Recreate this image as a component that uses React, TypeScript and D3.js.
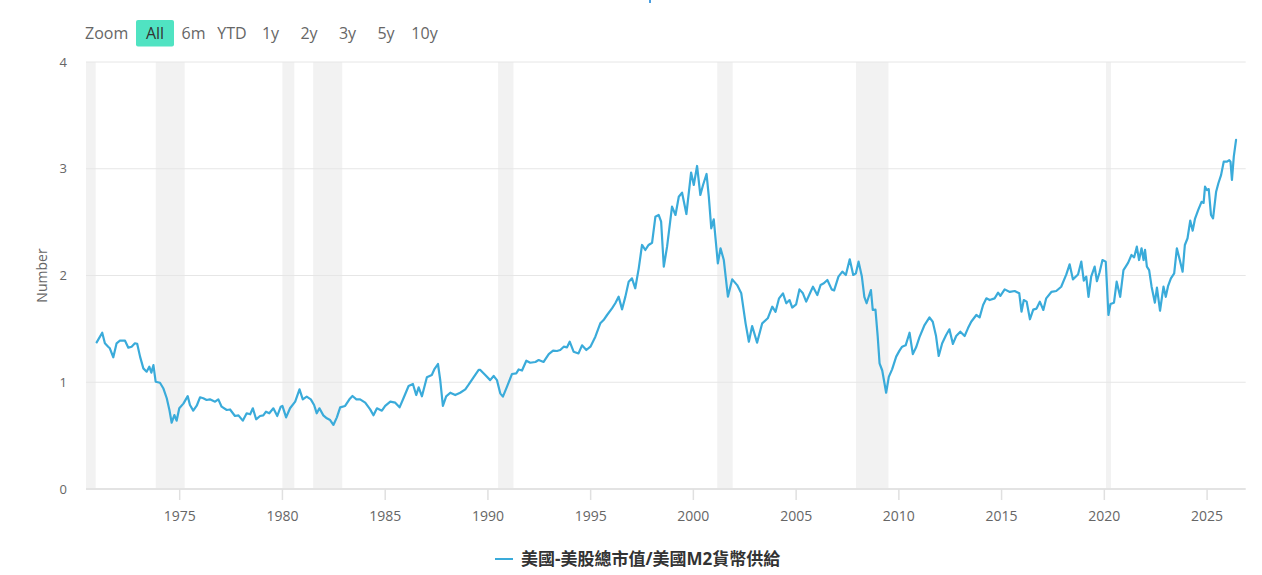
import { useMemo } from "react";
import { scaleLinear, scaleUtc, line } from "d3";

// ratio readings: [decimal year, value]
const ratio1970s: [number, number][] = [
  [1970.96, 1.374], [1971.23, 1.464], [1971.36, 1.365], [1971.52, 1.333], [1971.6, 1.318],
  [1971.77, 1.234], [1971.93, 1.365], [1972.09, 1.389], [1972.34, 1.389], [1972.5, 1.324],
  [1972.66, 1.333], [1972.82, 1.365], [1972.93, 1.36], [1973.07, 1.24], [1973.23, 1.13],
  [1973.39, 1.099], [1973.52, 1.146], [1973.62, 1.09], [1973.72, 1.16], [1973.83, 1.005],
  [1974.04, 0.995], [1974.2, 0.944], [1974.37, 0.85], [1974.5, 0.74], [1974.61, 0.621],
  [1974.74, 0.693], [1974.85, 0.64], [1974.98, 0.756], [1975.18, 0.8], [1975.39, 0.87],
  [1975.5, 0.787], [1975.66, 0.734], [1975.83, 0.78], [1975.99, 0.859], [1976.15, 0.85],
  [1976.31, 0.834], [1976.47, 0.84], [1976.72, 0.818], [1976.88, 0.84], [1977.04, 0.771],
  [1977.29, 0.74], [1977.45, 0.745], [1977.69, 0.684], [1977.86, 0.69], [1978.07, 0.64],
  [1978.26, 0.709], [1978.43, 0.7], [1978.56, 0.756], [1978.72, 0.653], [1978.91, 0.684],
  [1979.07, 0.69], [1979.2, 0.724], [1979.36, 0.709], [1979.56, 0.756], [1979.75, 0.684],
  [1979.92, 0.771],
];

const ratio1980s: [number, number][] = [
  [1980.0, 0.778], [1980.18, 0.671], [1980.37, 0.756], [1980.62, 0.818], [1980.83, 0.934],
  [1980.99, 0.84], [1981.18, 0.865], [1981.38, 0.84], [1981.54, 0.787], [1981.67, 0.709],
  [1981.8, 0.756], [1981.99, 0.69], [1982.16, 0.662], [1982.32, 0.646], [1982.48, 0.6],
  [1982.65, 0.671], [1982.81, 0.765], [1983.05, 0.778], [1983.26, 0.84], [1983.41, 0.871],
  [1983.6, 0.84], [1983.78, 0.84], [1984.03, 0.809], [1984.27, 0.746], [1984.43, 0.69],
  [1984.6, 0.756], [1984.84, 0.734], [1985.0, 0.778], [1985.25, 0.818], [1985.49, 0.809],
  [1985.7, 0.765], [1985.89, 0.85], [1986.14, 0.965], [1986.35, 0.984], [1986.51, 0.88],
  [1986.63, 0.952], [1986.79, 0.868], [1987.03, 1.046], [1987.27, 1.068], [1987.39, 1.12],
  [1987.57, 1.171], [1987.68, 1.021], [1987.81, 0.778], [1987.97, 0.868], [1988.17, 0.902],
  [1988.41, 0.88], [1988.65, 0.902], [1988.9, 0.934], [1989.06, 0.977], [1989.3, 1.046],
  [1989.55, 1.115], [1989.63, 1.115], [1989.87, 1.068],
];

const ratio1990s: [number, number][] = [
  [1990.11, 1.02], [1990.28, 1.059], [1990.44, 1.02], [1990.6, 0.896], [1990.73, 0.865],
  [1990.93, 0.959], [1991.17, 1.077], [1991.38, 1.083], [1991.5, 1.12], [1991.66, 1.11],
  [1991.87, 1.202], [1992.06, 1.183], [1992.31, 1.19], [1992.47, 1.208], [1992.71, 1.19],
  [1992.96, 1.264], [1993.17, 1.296], [1993.36, 1.293], [1993.52, 1.302], [1993.69, 1.333],
  [1993.85, 1.327], [1993.98, 1.38], [1994.17, 1.286], [1994.41, 1.27], [1994.58, 1.346],
  [1994.79, 1.302], [1994.99, 1.333], [1995.23, 1.427], [1995.47, 1.552], [1995.63, 1.583],
  [1995.8, 1.63], [1996.04, 1.692], [1996.2, 1.74], [1996.36, 1.802], [1996.53, 1.683],
  [1996.69, 1.802], [1996.85, 1.942], [1997.01, 1.973], [1997.17, 1.88], [1997.34, 2.067],
  [1997.5, 2.286], [1997.66, 2.239], [1997.82, 2.286], [1997.99, 2.307], [1998.15, 2.55],
  [1998.31, 2.567], [1998.43, 2.504], [1998.56, 2.083], [1998.72, 2.27], [1998.96, 2.645],
  [1999.13, 2.567], [1999.29, 2.738], [1999.45, 2.776], [1999.66, 2.576], [1999.89, 2.965],
];

const ratio2000s: [number, number][] = [
  [2000.02, 2.848], [2000.18, 3.026], [2000.34, 2.754], [2000.47, 2.848], [2000.64, 2.951],
  [2000.75, 2.738], [2000.87, 2.442], [2000.99, 2.526], [2001.19, 2.114], [2001.32, 2.255],
  [2001.48, 2.145], [2001.68, 1.802], [2001.89, 1.964], [2002.13, 1.91], [2002.33, 1.833],
  [2002.54, 1.552], [2002.7, 1.38], [2002.86, 1.527], [2003.1, 1.371], [2003.35, 1.552],
  [2003.62, 1.599], [2003.84, 1.708], [2004.0, 1.66], [2004.17, 1.786], [2004.36, 1.833],
  [2004.52, 1.74], [2004.68, 1.77], [2004.81, 1.7], [2005.0, 1.73], [2005.16, 1.87],
  [2005.33, 1.833], [2005.49, 1.755], [2005.7, 1.846], [2005.82, 1.895], [2006.03, 1.817],
  [2006.19, 1.911], [2006.35, 1.927], [2006.52, 1.958], [2006.73, 1.87], [2006.85, 1.86],
  [2007.06, 1.99], [2007.25, 2.036], [2007.42, 2.005], [2007.61, 2.152], [2007.78, 2.005],
  [2007.91, 2.02], [2008.04, 2.13], [2008.2, 1.99], [2008.32, 1.8], [2008.43, 1.74],
  [2008.64, 1.864], [2008.73, 1.677], [2008.86, 1.68], [2008.97, 1.427], [2009.06, 1.177],
  [2009.19, 1.11], [2009.38, 0.902], [2009.51, 1.05], [2009.67, 1.121], [2009.87, 1.24],
];

const ratio2010s: [number, number][] = [
  [2010.03, 1.296], [2010.16, 1.333], [2010.33, 1.346], [2010.52, 1.464], [2010.68, 1.264],
  [2010.84, 1.327], [2011.0, 1.421], [2011.25, 1.536], [2011.49, 1.608], [2011.65, 1.567],
  [2011.81, 1.433], [2011.94, 1.246], [2012.11, 1.365], [2012.3, 1.443], [2012.46, 1.496],
  [2012.63, 1.359], [2012.79, 1.433], [2012.99, 1.474], [2013.2, 1.433], [2013.36, 1.505],
  [2013.52, 1.567], [2013.77, 1.63], [2013.93, 1.608], [2014.1, 1.724], [2014.26, 1.786],
  [2014.42, 1.77], [2014.66, 1.786], [2014.83, 1.839], [2014.94, 1.81], [2015.15, 1.87],
  [2015.4, 1.846], [2015.64, 1.855], [2015.86, 1.833], [2015.97, 1.661], [2016.08, 1.77],
  [2016.22, 1.755], [2016.38, 1.59], [2016.54, 1.68], [2016.7, 1.69], [2016.86, 1.755],
  [2017.03, 1.677], [2017.17, 1.786], [2017.42, 1.846], [2017.66, 1.855], [2017.9, 1.895],
  [2018.15, 2.01], [2018.31, 2.105], [2018.47, 1.964], [2018.72, 2.01], [2018.88, 2.13],
  [2019.0, 1.952], [2019.12, 1.99], [2019.23, 1.8], [2019.36, 1.99], [2019.53, 2.083],
  [2019.64, 1.946], [2019.77, 2.03], [2019.91, 2.145],
];

const ratio2020s: [number, number][] = [
  [2020.07, 2.13], [2020.2, 1.63], [2020.3, 1.733], [2020.47, 1.745], [2020.6, 1.942],
  [2020.77, 1.8], [2020.93, 2.05], [2021.04, 2.083], [2021.16, 2.12], [2021.32, 2.192],
  [2021.45, 2.17], [2021.58, 2.27], [2021.69, 2.145], [2021.81, 2.255], [2021.91, 2.145],
  [2021.98, 2.24], [2022.07, 2.083], [2022.18, 2.05], [2022.3, 1.895], [2022.46, 1.745],
  [2022.56, 1.886], [2022.71, 1.67], [2022.88, 1.895], [2022.99, 1.8], [2023.1, 1.9],
  [2023.24, 1.973], [2023.4, 2.02], [2023.53, 2.255], [2023.64, 2.17], [2023.81, 2.036],
  [2023.92, 2.286], [2024.05, 2.349], [2024.18, 2.514], [2024.3, 2.42], [2024.41, 2.53],
  [2024.57, 2.614], [2024.73, 2.69], [2024.83, 2.68], [2024.9, 2.832], [2024.99, 2.8],
  [2025.08, 2.81], [2025.19, 2.567], [2025.29, 2.535], [2025.44, 2.785], [2025.55, 2.864],
  [2025.68, 2.94], [2025.81, 3.066], [2025.97, 3.066], [2026.08, 3.08], [2026.14, 3.066],
  [2026.21, 2.895], [2026.3, 3.113], [2026.41, 3.27],
];

// NBER recessions (shaded bands)
const recessions: [string, string][] = [
  ["1969-12-01", "1970-11-30"],
  ["1973-11-01", "1975-03-31"],
  ["1980-01-01", "1980-07-31"],
  ["1981-07-01", "1982-11-30"],
  ["1990-07-01", "1991-03-31"],
  ["2001-03-01", "2001-11-30"],
  ["2007-12-01", "2009-06-30"],
  ["2020-02-01", "2020-04-30"],
];

const xTickYears = [1975, 1980, 1985, 1990, 1995, 2000, 2005, 2010, 2015, 2020, 2025];
const yTicks = [0, 1, 2, 3, 4];
const rangeButtons = ["All", "6m", "YTD", "1y", "2y", "3y", "5y", "10y"];
const seriesName = "美國-美股總市值/美國M2貨幣供給";
const axisTitle = "Number";

const COLOR = "#3aabda";
const FONT = '"Open Sans", "Noto Sans CJK TC", sans-serif';

const toDate = (t: number) => {
  const y = Math.floor(t);
  const a = Date.UTC(y, 0, 1);
  const b = Date.UTC(y + 1, 0, 1);
  return new Date(a + (t - y) * (b - a));
};

const W = 1262;
const H = 575;
const left = 86;
const right = 1245.7;
const top = 62;
const bottom = 489;

export default function App() {
  const data = useMemo(
    () =>
      [...ratio1970s, ...ratio1980s, ...ratio1990s, ...ratio2000s, ...ratio2010s, ...ratio2020s].map(
        ([t, v]) => ({ date: toDate(t), value: v })
      ),
    []
  );

  const x = scaleUtc().domain([toDate(1970.44), toDate(2026.88)]).range([left, right]);
  const y = scaleLinear().domain([0, 4]).range([bottom, top]);

  const path =
    line<{ date: Date; value: number }>()
      .x((d) => x(d.date))
      .y((d) => y(d.value))(data) || "";

  return (
    <svg
      width={W}
      height={H}
      style={{ position: "absolute", left: 0, top: 0, background: "#fff", fontFamily: FONT }}
    >
      <rect x={649} y={0} width={2} height={3} fill="#4a9ee0" />

      {/* range selector */}
      <text x={85} y={39} fontSize={16} fill="#666">
        Zoom
      </text>
      {rangeButtons.map((b, i) => {
        const cx = 155 + i * 38.5;
        const sel = b === "All";
        return (
          <g key={b}>
            {sel && <rect x={cx - 19} y={20} width={38} height={26.5} rx={2} fill="#50e3c2" />}
            <text x={cx} y={39} fontSize={16} textAnchor="middle" fill={sel ? "#333" : "#666"}>
              {b}
            </text>
          </g>
        );
      })}

      {/* recession bands */}
      {recessions.map(([s, e]) => {
        const x0 = Math.max(left, x(new Date(s)));
        const x1 = Math.min(right, x(new Date(e)));
        return <rect key={s} x={x0} y={top} width={x1 - x0} height={bottom - top} fill="#f2f2f2" />;
      })}

      {/* grid */}
      {yTicks.map((t) =>
        t === 0 ? null : (
          <line key={t} x1={left} x2={right} y1={y(t)} y2={y(t)} stroke="#e6e6e6" strokeWidth={1} />
        )
      )}
      {yTicks.map((t) => (
        <text key={t} x={67} y={y(t)} dy="0.35em" fontSize={13} textAnchor="end" fill="#666">
          {t}
        </text>
      ))}
      <text
        transform={`translate(47,${(top + bottom) / 2}) rotate(-90)`}
        fontSize={14}
        textAnchor="middle"
        fill="#666"
      >
        {axisTitle}
      </text>

      {/* x axis */}
      <line x1={left} x2={right} y1={bottom} y2={bottom} stroke="#e3e3e3" strokeWidth={2} />
      {xTickYears.map((yr) => {
        const xx = x(new Date(Date.UTC(yr, 0, 1)));
        return (
          <g key={yr}>
            <line x1={xx} x2={xx} y1={bottom} y2={bottom + 11} stroke="#e0e0e0" strokeWidth={1.5} />
            <text x={xx} y={521} fontSize={14} textAnchor="middle" fill="#666">
              {yr}
            </text>
          </g>
        );
      })}

      {/* series */}
      <path d={path} fill="none" stroke={COLOR} strokeWidth={2.2} strokeLinejoin="round" strokeLinecap="round" />

      {/* legend */}
      <line x1={495} x2={513} y1={559} y2={559} stroke={COLOR} strokeWidth={2} />
      <text x={521} y={565} fontSize={17} fontWeight="bold" fill="#333">
        {seriesName}
      </text>
    </svg>
  );
}
